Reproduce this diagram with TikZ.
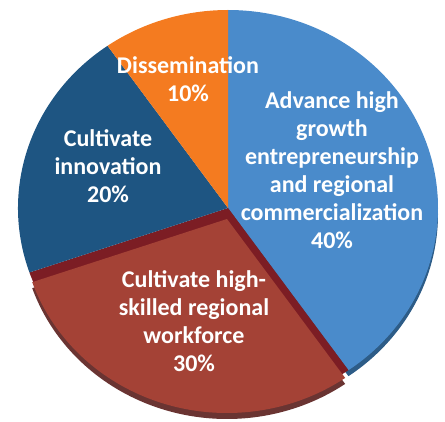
\documentclass[tikz,border=0pt]{standalone}
\usepackage{fontspec}
\setmainfont{Carlito}
\usepackage{tikz}
\usetikzlibrary{positioning}

\definecolor{growthblue}{RGB}{74,139,203}
\definecolor{growthrim}{RGB}{45,92,135}
\definecolor{dissorange}{RGB}{244,123,32}
\definecolor{innovblue}{RGB}{30,85,130}
\definecolor{workred}{RGB}{164,66,54}
\definecolor{workband}{RGB}{124,29,36}
\definecolor{workrim}{RGB}{106,52,50}

\begin{document}
\begin{tikzpicture}[
    x=1pt, y=1pt,
    label/.style={text=white, font=\fontsize{24}{28}\selectfont\bfseries, align=center, inner sep=0pt}
    ]
    \useasboundingbox (0,0) rectangle (445,421);
    \coordinate (c) at (228,213);
    \coordinate (cface) at (227,202);

    % rim below the pie
    \fill[growthrim] ([yshift=-6pt]c) -- +(90:210pt and 198pt)
        arc[start angle=90, end angle=-55, x radius=210pt, y radius=198pt] -- cycle;
    \fill[workrim] ([yshift=-6pt]cface) -- +(-55:206pt and 194pt)
        arc[start angle=-55, end angle=-161, x radius=206pt, y radius=194pt] -- cycle;

    % slices
    \fill[growthblue] (c) -- +(90:210pt and 198pt)
        arc[start angle=90, end angle=-55, x radius=210pt, y radius=198pt] -- cycle;
    \fill[workband] (c) -- +(-55:210pt and 198pt)
        arc[start angle=-55, end angle=-161, x radius=210pt, y radius=198pt] -- cycle;
    \fill[innovblue] (c) -- +(-161:210pt and 198pt)
        arc[start angle=-161, end angle=-235, x radius=210pt, y radius=198pt] -- cycle;
    \fill[dissorange] (c) -- +(125:210pt and 198pt)
        arc[start angle=125, end angle=90, x radius=210pt, y radius=198pt] -- cycle;
    \fill[workred] (cface) -- +(-55:206pt and 194pt)
        arc[start angle=-55, end angle=-161, x radius=206pt, y radius=194pt] -- cycle;

    % labels
    \node (growth) [label] at (332,251) {Advance high\\growth\\entrepreneurship\\and regional\\commercialization\\40\%};
    \node (workforce) [label] at (194,100) {Cultivate high-\\skilled regional\\workforce\\30\%};
    \node (innovation) [label] at (108,255) {Cultivate\\innovation\\20\%};
    \node (dissemination) [label] at (188,342) {Dissemination\\10\%};
\end{tikzpicture}
\end{document}
